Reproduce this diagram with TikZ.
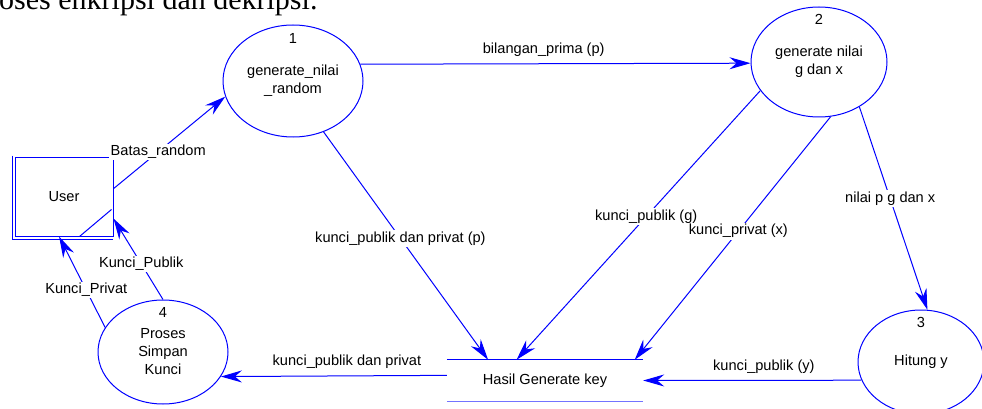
\documentclass[tikz,border=0pt]{standalone}
\usepackage{fontspec}
\setmainfont{Liberation Sans}
\newfontfamily\pageserif{Liberation Serif}
\usetikzlibrary{arrows.meta,shapes.geometric}
\definecolor{dfdblue}{RGB}{0,0,255}
\begin{document}
\begin{tikzpicture}[x=1pt,y=-1pt,every node/.style={font=\fontsize{14.6}{18}\selectfont},
  line/.style={draw=dfdblue,line width=1pt},
  proc/.style={line,ellipse,inner sep=0pt,align=center},
  entity/.style={line,rectangle,inner sep=0pt},
  num/.style={inner sep=0pt},
  flow/.style={line,-{Stealth[length=21pt,width=12pt,inset=7pt]}},
  lbl/.style={fill=white,inner sep=1.5pt}]
\useasboundingbox (0,0) rectangle (982,409);
\clip (0,0) rectangle (982,409);
\node[anchor=base west,inner sep=0pt,font=\pageserif\fontsize{30}{36}\selectfont] (title) at (-1,9.5) {oses enkripsi dan dekripsi.};
\node[entity,minimum width=98pt,minimum height=79pt] (user) at (64,196.5) {User};
\draw[line] ([shift={(-2.5,-1)}]user.north west) -- ([shift={(-2.5,2.5)}]user.south west) -- ([shift={(-1,2.5)}]user.south east);
\draw[line] ([shift={(-2,-27)}]user.south east) -- ([shift={(-34,0)}]user.south east);
\node[proc,minimum width=140pt,minimum height=112pt] (p1) at (293,81) {generate\_nilai\\\_random};
\node[num] (n1) at ([yshift=-14pt]p1.north) {1};
\node[proc,minimum width=136pt,minimum height=110pt] (p2) at (819,62) {generate nilai\\g dan x};
\node[num] (n2) at ([yshift=-13pt]p2.north) {2};
\node[proc,minimum width=126pt,minimum height=104pt] (p3) at (921,362) {Hitung y};
\node[num] (n3) at ([yshift=-13pt]p3.north) {3};
\node[proc,minimum width=130pt,minimum height=104pt] (p4) at (163,352) {Proses\\Simpan\\Kunci};
\node[num] (n4) at ([yshift=-13pt]p4.north) {4};
\node[minimum width=196pt,minimum height=41pt,inner sep=0pt] (store) at (545,380.5) {Hasil Generate key};
\draw[line] (store.north west) -- (store.north east);
\draw[line,draw=dfdblue!55] (store.south west) -- (store.south east);
\draw[flow] (user.9.8) -- node[lbl,pos=0.4] (f1) {Batas\_random} (p1.193.6);
\draw[flow] (p1.14.3) -- node[lbl,pos=0.47,above=5pt] (f2) {bilangan\_prima (p)} (p2.181.7);
\draw[flow] (p1.301.7) -- node[lbl,pos=0.467] (f3) {kunci\_publik dan privat (p)} (store.160.2);
\draw[flow] (p2.206.2) -- node[lbl,pos=0.468] (f4) {kunci\_publik (g)} (store.144.7);
\draw[flow] (p2.282.5) -- node[lbl,pos=0.471] (f5) {kunci\_privat (x)} (store.13.3);
\draw[flow] (p2.312) -- node[lbl,pos=0.453] (f6) {nilai p g dan x} (p3.83);
\draw[flow] (p3.197.4) -- node[lbl,pos=0.447,above=5pt] (f7) {kunci\_publik (y)} (store.east);
\draw[flow] (store.177.4) -- node[lbl,pos=0.442,above=5pt] (f8) {kunci\_publik dan privat} (p4.337.4);
\draw[flow] (p4.157.5) -- node[lbl,pos=0.41] (f9) {Kunci\_Privat} (user.263);
\draw[flow] (p4.north) -- node[lbl,pos=0.44] (f10) {Kunci\_Publik} (user.336.3);
\end{tikzpicture}
\end{document}
